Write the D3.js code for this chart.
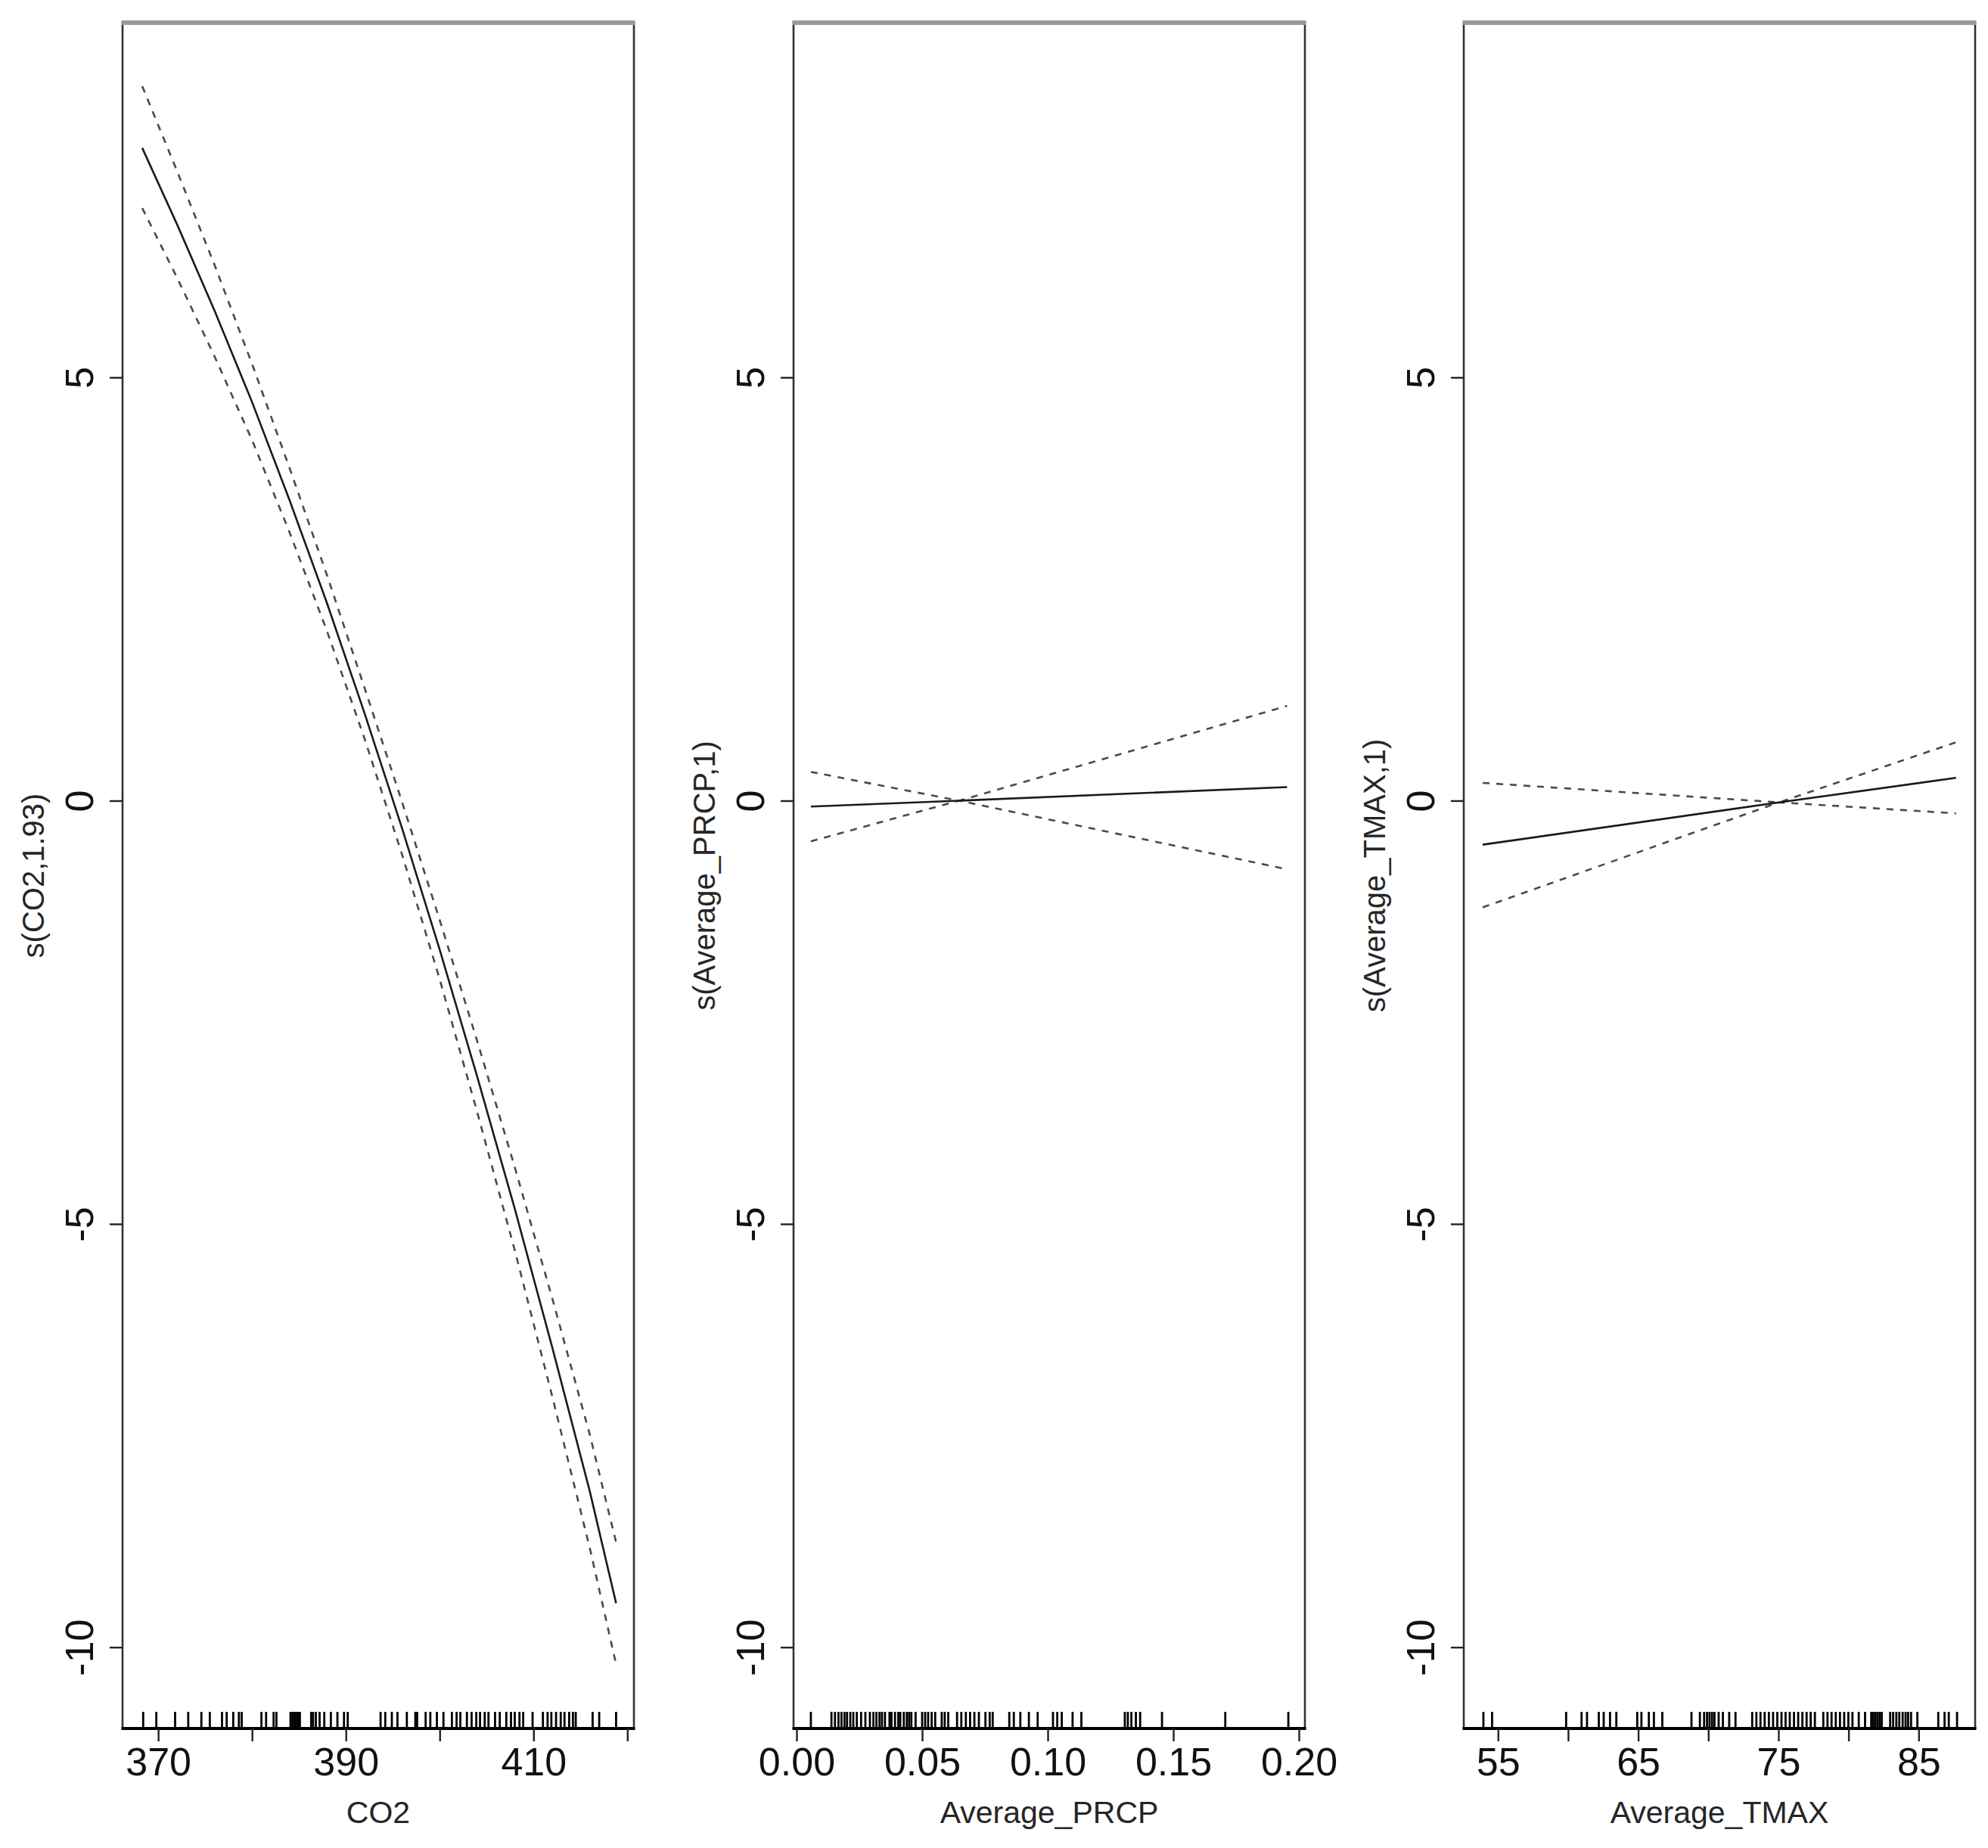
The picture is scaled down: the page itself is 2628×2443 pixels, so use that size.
<!DOCTYPE html>
<html>
<head>
<meta charset="utf-8">
<script src="https://cdn.jsdelivr.net/npm/d3@7"></script>
<style>
  html, body { margin: 0; padding: 0; background: #fff; }
  svg { display: block; }
  text { font-family: "Liberation Sans", Arial, sans-serif; }
</style>
</head>
<body>
<svg id="chart" width="2628" height="2443"></svg>
<script>
// ---------------- DATA ----------------
// Panel 1: s(CO2,1.93)
const co2X     = [368.3, 372, 376, 380, 384, 388, 392, 396, 400, 404, 408, 412, 416, 418.8];
const co2Fit   = [7.71, 6.81, 5.79, 4.71, 3.55, 2.33, 1.03, -0.33, -1.76, -3.26, -4.82, -6.46, -8.16, -9.48];
const co2Upper = [8.44, 7.44, 6.33, 5.16, 3.93, 2.66, 1.33, -0.02, -1.41, -2.84, -4.33, -5.88, -7.49, -8.76];
const co2Lower = [7.00, 6.18, 5.25, 4.26, 3.17, 2.00, 0.73, -0.64, -2.11, -3.68, -5.31, -7.04, -8.83, -10.20];
const co2Rug = [368.4, 369.8, 371.8, 373.2, 374.6, 375.5, 376.8, 377.3, 378.0, 378.6, 378.9, 381.0, 381.5,
  382.3, 382.6, 384.1, 384.3, 384.5, 384.7, 384.9, 385.1, 386.3, 386.5, 386.8, 387.2, 387.7, 388.4, 389.1,
  389.8, 390.2, 393.7, 394.2, 394.9, 395.5, 396.5, 397.4, 397.6, 398.5, 399.0, 399.7, 400.4, 401.3, 401.8,
  402.2, 402.9, 403.4, 403.9, 404.3, 404.8, 405.2, 405.9, 406.4, 407.1, 407.6, 408.0, 408.5, 408.9, 409.9,
  411.0, 411.5, 411.9, 412.4, 412.9, 413.3, 413.8, 414.2, 414.5, 416.3, 417.0, 418.8];
const co2Ticks = [370, 380, 390, 400, 410, 420];
const co2Labels = ["370", "", "390", "", "410", ""];

// Panel 2: s(Average_PRCP,1)
const prcpX     = [0.0057, 0.0647, 0.1953];
const prcpFit   = [-0.07, 0.0, 0.16];
const prcpUpper = [0.34, 0.0, 1.12];
const prcpLower = [-0.48, 0.0, -0.81];
const prcpRug = [0.0057, 0.0139, 0.0153, 0.0167, 0.0179, 0.0191, 0.0201, 0.0214, 0.0226, 0.0240, 0.0257,
  0.0274, 0.0292, 0.0306, 0.0318, 0.0330, 0.0340, 0.0352, 0.0370, 0.0378, 0.0392, 0.0405, 0.0413, 0.0427,
  0.0439, 0.0448, 0.0457, 0.0474, 0.0500, 0.0512, 0.0524, 0.0538, 0.0552, 0.0578, 0.0590, 0.0604, 0.0639,
  0.0656, 0.0674, 0.0691, 0.0708, 0.0726, 0.0752, 0.0769, 0.0781, 0.0847, 0.0865, 0.0891, 0.0925, 0.0960,
  0.1021, 0.1038, 0.1056, 0.1099, 0.1134, 0.1307, 0.1319, 0.1333, 0.1351, 0.1368, 0.1455, 0.1707, 0.1958];
const prcpTicks = [0.00, 0.05, 0.10, 0.15, 0.20];
const prcpLabels = ["0.00", "0.05", "0.10", "0.15", "0.20"];

// Panel 3: s(Average_TMAX,1)
const tmaxX     = [53.91, 75.05, 87.67];
const tmaxFit   = [-0.52, -0.02, 0.27];
const tmaxUpper = [0.21, -0.02, 0.69];
const tmaxLower = [-1.26, -0.02, -0.15];
const tmaxRug = [53.96, 54.58, 59.86, 60.96, 61.35, 62.19, 62.54, 62.99, 63.44, 64.93, 65.23, 65.76, 66.12,
  66.72, 68.80, 69.40, 69.70, 69.91, 70.09, 70.27, 70.44, 70.74, 71.04, 71.49, 71.94, 73.13, 73.43, 73.72,
  74.02, 74.32, 74.62, 74.92, 75.22, 75.51, 75.81, 76.11, 76.41, 76.71, 77.01, 77.30, 77.60, 78.20, 78.50,
  78.79, 79.09, 79.39, 79.69, 79.99, 80.28, 80.73, 81.18, 81.62, 81.77, 81.92, 82.07, 82.22, 82.37, 82.97,
  83.18, 83.41, 83.62, 83.86, 84.07, 84.25, 84.46, 84.91, 86.40, 86.85, 87.15, 87.74];
const tmaxTicks = [55, 60, 65, 70, 75, 80, 85];
const tmaxLabels = ["55", "", "65", "", "75", "", "85"];

// Shared y axis
const yTicks = [-10, -5, 0, 5];
const yTickLabels = ["-10", "-5", "0", "5"];
const yDomain = [-10.96, 9.19];

const panels = [
  { xlab: "CO2", ylab: "s(CO2,1.93)", xDomain: [366.2, 420.7], left: 162, right: 838,
    x: co2X, fit: co2Fit, upper: co2Upper, lower: co2Lower, rug: co2Rug, ticks: co2Ticks, labels: co2Labels },
  { xlab: "Average_PRCP", ylab: "s(Average_PRCP,1)", xDomain: [-0.0012, 0.2024], left: 1049, right: 1725,
    x: prcpX, fit: prcpFit, upper: prcpUpper, lower: prcpLower, rug: prcpRug, ticks: prcpTicks, labels: prcpLabels },
  { xlab: "Average_TMAX", ylab: "s(Average_TMAX,1)", xDomain: [52.56, 89.03], left: 1935, right: 2611,
    x: tmaxX, fit: tmaxFit, upper: tmaxUpper, lower: tmaxLower, rug: tmaxRug, ticks: tmaxTicks, labels: tmaxLabels }
];

// ---------------- LAYOUT ----------------
const TOP = 30, BOTTOM = 2285;
const TICK = 17;
const svg = d3.select("#chart");
svg.append("rect").attr("width", 2628).attr("height", 2443).attr("fill", "#fff");

const y = d3.scaleLinear().domain(yDomain).range([BOTTOM, TOP]);

panels.forEach(p => {
  const x = d3.scaleLinear().domain(p.xDomain).range([p.left, p.right]);
  const g = svg.append("g");

  // Curves
  const line = d3.line().x(d => x(d[0])).y(d => y(d[1]));
  const mk = arr => p.x.map((v, i) => [v, arr[i]]);
  g.append("path").attr("d", line(mk(p.upper)))
    .attr("fill", "none").attr("stroke", "#4a4a4a").attr("stroke-width", 2.6)
    .attr("stroke-dasharray", "9,9");
  g.append("path").attr("d", line(mk(p.lower)))
    .attr("fill", "none").attr("stroke", "#4a4a4a").attr("stroke-width", 2.6)
    .attr("stroke-dasharray", "9,9");
  g.append("path").attr("d", line(mk(p.fit)))
    .attr("fill", "none").attr("stroke", "#1a1a1a").attr("stroke-width", 2.6);

  // Rug
  g.append("g").selectAll("line").data(p.rug).join("line")
    .attr("x1", d => x(d)).attr("x2", d => x(d))
    .attr("y1", BOTTOM).attr("y2", BOTTOM - 22)
    .attr("stroke", "#000").attr("stroke-width", 2.8);

  // Box
  g.append("rect").attr("x", p.left).attr("y", TOP)
    .attr("width", p.right - p.left).attr("height", BOTTOM - TOP)
    .attr("fill", "none").attr("stroke", "#333").attr("stroke-width", 2.6);
  g.append("line").attr("x1", p.left - 1.5).attr("x2", p.right + 1.5)
    .attr("y1", TOP).attr("y2", TOP)
    .attr("stroke", "#9a9a9a").attr("stroke-width", 6);
  g.append("line").attr("x1", p.left - 1.5).attr("x2", p.right + 1.5)
    .attr("y1", BOTTOM).attr("y2", BOTTOM)
    .attr("stroke", "#000").attr("stroke-width", 4);

  // X axis
  const xa = g.append("g").attr("transform", `translate(0,${BOTTOM})`)
    .call(d3.axisBottom(x).tickValues(p.ticks).tickSize(TICK).tickPadding(8)
      .tickFormat((d, i) => p.labels[i]));
  xa.select(".domain").remove();
  xa.selectAll(".tick line").attr("stroke", "#222").attr("stroke-width", 2.4);
  xa.selectAll(".tick text").attr("font-size", 52).attr("fill", "#111")
    .attr("font-family", "'Liberation Sans', Arial, sans-serif");

  // Y axis
  const ya = g.append("g").attr("transform", `translate(${p.left},0)`)
    .call(d3.axisLeft(y).tickValues(yTicks).tickSize(TICK)
      .tickFormat((d, i) => yTickLabels[i]));
  ya.select(".domain").remove();
  ya.selectAll(".tick line").attr("stroke", "#222").attr("stroke-width", 2.4);
  ya.selectAll(".tick text")
    .attr("x", null).attr("dy", null)
    .attr("transform", "translate(-39,0) rotate(-90)")
    .attr("text-anchor", "middle")
    .attr("font-size", 52).attr("fill", "#111")
    .attr("font-family", "'Liberation Sans', Arial, sans-serif");

  // Titles
  g.append("text").attr("x", (p.left + p.right) / 2).attr("y", 2410)
    .attr("text-anchor", "middle").attr("font-size", 41).attr("fill", "#262626")
    .text(p.xlab);
  const yc = (TOP + BOTTOM) / 2;
  g.append("text")
    .attr("transform", `translate(${p.left - 104},${yc}) rotate(-90)`)
    .attr("text-anchor", "middle").attr("font-size", 40).attr("fill", "#262626")
    .text(p.ylab);
});
</script>
</body>
</html>
